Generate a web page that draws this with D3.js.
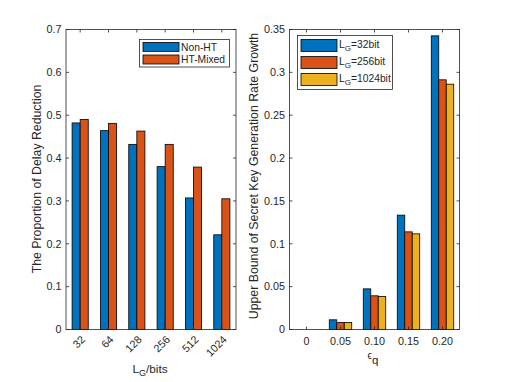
<!DOCTYPE html>
<html>
<head>
<meta charset="utf-8">
<script src="https://cdn.jsdelivr.net/npm/d3@7"></script>
<style>
  body { margin: 0; background: #fff; }
  text { font-family: "Liberation Sans", Arial, sans-serif; fill: #262626; }
</style>
</head>
<body>
<svg id="chart" width="507" height="382"></svg>
<script>
// ── Data ──────────────────────────────────────────────────────────────
const lgLabels   = ['32', '64', '128', '256', '512', '1024'];
const nonHT      = [0.482, 0.464, 0.432, 0.380, 0.307, 0.221];
const htMixed    = [0.490, 0.481, 0.463, 0.432, 0.379, 0.305];
const leftSeries = ['Non-HT', 'HT-Mixed'];

const epsLabels   = ['0', '0.05', '0.10', '0.15', '0.20'];
const lg32        = [0, 0.0113, 0.0474, 0.1334, 0.3426];
const lg256       = [0, 0.0082, 0.0393, 0.1139, 0.2913];
const lg1024      = [0, 0.0082, 0.0385, 0.1116, 0.2862];
const rightSeries = ['32bit', '256bit', '1024bit'];

const leftTicks  = [0, 0.1, 0.2, 0.3, 0.4, 0.5, 0.6, 0.7];
const rightTicks = [0, 0.05, 0.1, 0.15, 0.2, 0.25, 0.3, 0.35];

const COLORS = ['#0072BD', '#D95319', '#EDB120'];
const AXIS = '#262626';
const TICK_FS = 10.8, LABEL_FS = 12.3;

const svg = d3.select('#chart');
const plotTop = 29.5, plotBottom = 329.5;

function panel(opts) {
  const { x0, x1, cats, series, yMax, ticks, barFrac } = opts;
  const g = svg.append('g');
  const x = d3.scaleBand().domain(cats).range([x0, x1]).paddingInner(0).paddingOuter(0);
  const y = d3.scaleLinear().domain([0, yMax]).range([plotBottom, plotTop]);
  const n = series.length;
  const bw = x.bandwidth() * barFrac;

  // bars
  series.forEach((vals, si) => {
    g.selectAll(null).data(vals).enter().append('rect')
      .attr('x', (d, i) => x(cats[i]) + x.bandwidth() / 2 + (si - n / 2) * bw)
      .attr('y', d => y(d))
      .attr('width', bw)
      .attr('height', d => y(0) - y(d))
      .attr('fill', COLORS[si])
      .attr('stroke', '#000').attr('stroke-width', 0.8);
  });

  // box
  g.append('rect').attr('x', x0).attr('y', plotTop).attr('width', x1 - x0).attr('height', plotBottom - plotTop)
    .attr('fill', 'none').attr('stroke', AXIS).attr('stroke-width', 0.8);

  // y ticks (inside, both sides)
  ticks.forEach(t => {
    const yy = y(t);
    g.append('line').attr('x1', x0).attr('x2', x0 + 3).attr('y1', yy).attr('y2', yy).attr('stroke', AXIS).attr('stroke-width', 0.8);
    g.append('line').attr('x1', x1).attr('x2', x1 - 3).attr('y1', yy).attr('y2', yy).attr('stroke', AXIS).attr('stroke-width', 0.8);
    g.append('text').attr('x', x0 - 4.5).attr('y', yy).attr('dy', '0.35em')
      .attr('text-anchor', 'end').attr('font-size', TICK_FS).text(String(t));
  });

  // x ticks (inside, top and bottom)
  cats.forEach(c => {
    const xx = x(c) + x.bandwidth() / 2;
    g.append('line').attr('x1', xx).attr('x2', xx).attr('y1', plotBottom).attr('y2', plotBottom - 3).attr('stroke', AXIS).attr('stroke-width', 0.8);
    g.append('line').attr('x1', xx).attr('x2', xx).attr('y1', plotTop).attr('y2', plotTop + 3).attr('stroke', AXIS).attr('stroke-width', 0.8);
  });
  return { g, x, y };
}

// ── Left panel ────────────────────────────────────────────────────────
const L = panel({ x0: 66, x1: 236, cats: lgLabels, series: [nonHT, htMixed], yMax: 0.7, ticks: leftTicks, barFrac: 0.285 });
lgLabels.forEach(c => {
  const xx = L.x(c) + L.x.bandwidth() / 2 + 3;
  L.g.append('text')
    .attr('transform', `translate(${xx},${plotBottom + 8}) rotate(-45)`)
    .attr('text-anchor', 'end').attr('dy', '0.35em').attr('font-size', TICK_FS).text(c);
});
L.g.append('text').attr('transform', 'translate(41,179) rotate(-90)')
  .attr('text-anchor', 'middle').attr('font-size', LABEL_FS).text('The Proportion of Delay Reduction');
{
  const t = L.g.append('text').attr('x', 150).attr('y', 373).attr('text-anchor', 'middle').attr('font-size', 11.8);
  t.append('tspan').text('L');
  t.append('tspan').attr('font-size', 9).attr('dy', 3).text('G');
  t.append('tspan').attr('dy', -3).text('/bits');
}
// legend
{
  const lg = L.g.append('g');
  lg.append('rect').attr('x', 139.5).attr('y', 39.5).attr('width', 90).attr('height', 27.5)
    .attr('fill', '#fff').attr('stroke', AXIS).attr('stroke-width', 0.8);
  leftSeries.forEach((s, i) => {
    const yy = 42.5 + i * 12.5;
    lg.append('rect').attr('x', 143).attr('y', yy).attr('width', 36).attr('height', 9)
      .attr('fill', COLORS[i]).attr('stroke', '#000').attr('stroke-width', 0.8);
    lg.append('text').attr('x', 181).attr('y', yy + 4.5).attr('dy', '0.35em').attr('font-size', 10.3).text(s);
  });
}

// ── Right panel ───────────────────────────────────────────────────────
const R = panel({ x0: 289.5, x1: 459.5, cats: epsLabels, series: [lg32, lg256, lg1024], yMax: 0.35, ticks: rightTicks, barFrac: 0.22 });
epsLabels.forEach(c => {
  const xx = R.x(c) + R.x.bandwidth() / 2;
  R.g.append('text').attr('x', xx).attr('y', plotBottom + 15).attr('text-anchor', 'middle').attr('font-size', TICK_FS).text(c);
});
R.g.append('text').attr('transform', 'translate(258,176) rotate(-90)')
  .attr('text-anchor', 'middle').attr('font-size', LABEL_FS).text('Upper Bound of Secret Key Generation Rate Growth');
{
  const t = R.g.append('text').attr('x', 373).attr('y', 359).attr('text-anchor', 'middle').attr('font-size', 10);
  t.append('tspan').text('\u03F5');
  t.append('tspan').attr('font-size', 11.5).attr('dy', 5).text('q');
}
{
  const lg = R.g.append('g');
  lg.append('rect').attr('x', 297.5).attr('y', 35.5).attr('width', 95).attr('height', 54)
    .attr('fill', '#fff').attr('stroke', AXIS).attr('stroke-width', 0.8);
  rightSeries.forEach((s, i) => {
    const yy = 39.5 + i * 17;
    lg.append('rect').attr('x', 301).attr('y', yy).attr('width', 36).attr('height', 12)
      .attr('fill', COLORS[i]).attr('stroke', '#000').attr('stroke-width', 0.8);
    const t = lg.append('text').attr('x', 339).attr('y', yy + 6).attr('dy', '0.2em').attr('font-size', 10.3);
    t.append('tspan').text('L');
    t.append('tspan').attr('font-size', 8).attr('dy', 3).text('G');
    t.append('tspan').attr('dy', -3).text('=' + s);
  });
}
</script>
</body>
</html>
